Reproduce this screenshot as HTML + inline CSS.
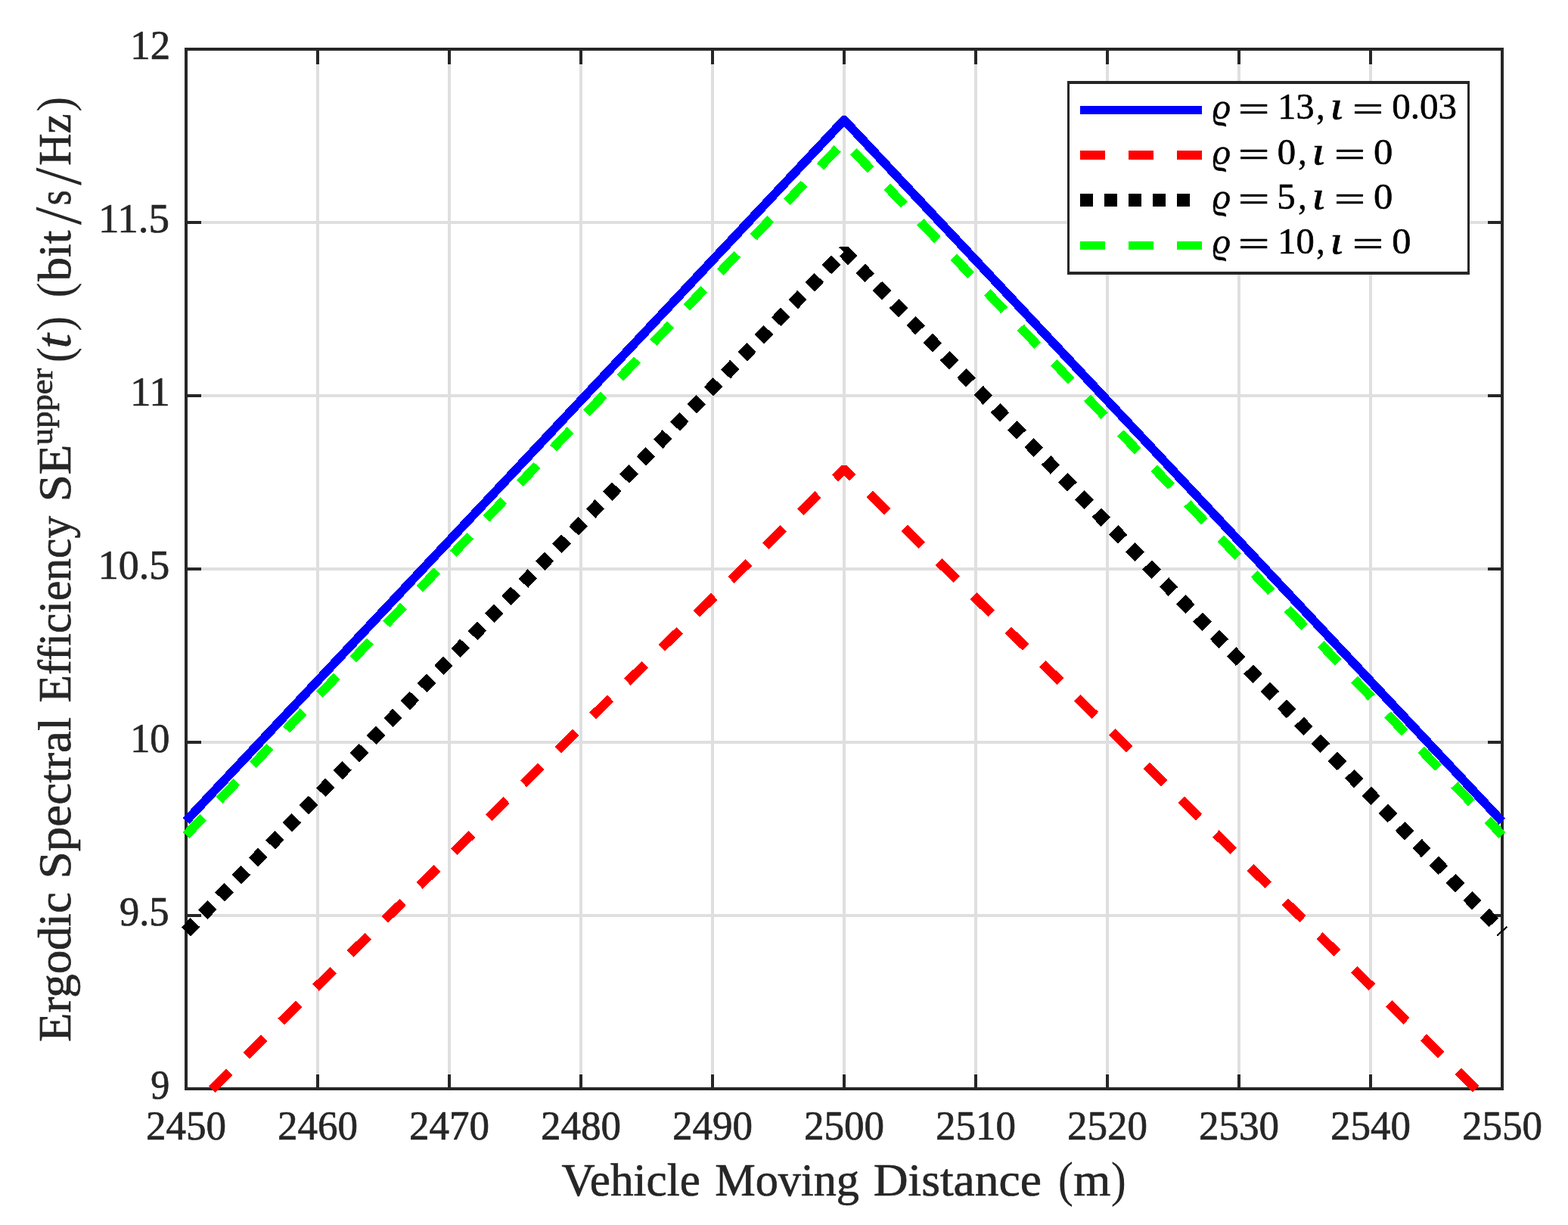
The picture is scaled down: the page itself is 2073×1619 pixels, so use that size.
<!DOCTYPE html>
<html lang="en">
<head>
<meta charset="utf-8">
<title>Ergodic Spectral Efficiency versus Vehicle Moving Distance</title>
<style>
html,body{margin:0;padding:0;background:#ffffff;}
body{width:2073px;height:1619px;overflow:hidden;}
svg{display:block;position:absolute;left:0;top:0;}
text{font-family:"Liberation Serif","DejaVu Serif",serif;white-space:pre;}
.tk,.lb,.sup{stroke:#262626;stroke-width:0.7;stroke-linejoin:round;}
.lg{stroke:#000000;stroke-width:0.6;stroke-linejoin:round;}
.tk{font-size:55px;fill:#262626;}
.lb{font-size:61px;fill:#262626;}
.sup{font-size:43px;fill:#262626;}
.lg{font-size:49px;fill:#000000;}
.it{font-style:italic;}
.ax{stroke:#262626;stroke-width:4;fill:none;}
.gr{stroke:#dfdfdf;stroke-width:4;fill:none;}
.ln{fill:none;stroke-linejoin:miter;stroke-linecap:butt;}
</style>
</head>
<body>
<svg width="2073" height="1619" viewBox="0 0 2073 1619">
<rect x="0" y="0" width="2073" height="1619" fill="#ffffff"/>
<g class="gr" shape-rendering="crispEdges">
<line x1="420" y1="65" x2="420" y2="1439"/>
<line x1="594" y1="65" x2="594" y2="1439"/>
<line x1="768" y1="65" x2="768" y2="1439"/>
<line x1="942" y1="65" x2="942" y2="1439"/>
<line x1="1116" y1="65" x2="1116" y2="1439"/>
<line x1="1290" y1="65" x2="1290" y2="1439"/>
<line x1="1464" y1="65" x2="1464" y2="1439"/>
<line x1="1638" y1="65" x2="1638" y2="1439"/>
<line x1="1812" y1="65" x2="1812" y2="1439"/>
<line x1="246" y1="294" x2="1986" y2="294"/>
<line x1="246" y1="523" x2="1986" y2="523"/>
<line x1="246" y1="752" x2="1986" y2="752"/>
<line x1="246" y1="981" x2="1986" y2="981"/>
<line x1="246" y1="1210" x2="1986" y2="1210"/>
</g>
<g class="ax" shape-rendering="crispEdges">
<rect x="246" y="65" width="1740" height="1374"/>
<line x1="420" y1="1439" x2="420" y2="1419.5"/>
<line x1="420" y1="65" x2="420" y2="84.5"/>
<line x1="594" y1="1439" x2="594" y2="1419.5"/>
<line x1="594" y1="65" x2="594" y2="84.5"/>
<line x1="768" y1="1439" x2="768" y2="1419.5"/>
<line x1="768" y1="65" x2="768" y2="84.5"/>
<line x1="942" y1="1439" x2="942" y2="1419.5"/>
<line x1="942" y1="65" x2="942" y2="84.5"/>
<line x1="1116" y1="1439" x2="1116" y2="1419.5"/>
<line x1="1116" y1="65" x2="1116" y2="84.5"/>
<line x1="1290" y1="1439" x2="1290" y2="1419.5"/>
<line x1="1290" y1="65" x2="1290" y2="84.5"/>
<line x1="1464" y1="1439" x2="1464" y2="1419.5"/>
<line x1="1464" y1="65" x2="1464" y2="84.5"/>
<line x1="1638" y1="1439" x2="1638" y2="1419.5"/>
<line x1="1638" y1="65" x2="1638" y2="84.5"/>
<line x1="1812" y1="1439" x2="1812" y2="1419.5"/>
<line x1="1812" y1="65" x2="1812" y2="84.5"/>
<line x1="246" y1="294" x2="265.5" y2="294"/>
<line x1="1986" y1="294" x2="1966.5" y2="294"/>
<line x1="246" y1="523" x2="265.5" y2="523"/>
<line x1="1986" y1="523" x2="1966.5" y2="523"/>
<line x1="246" y1="752" x2="265.5" y2="752"/>
<line x1="1986" y1="752" x2="1966.5" y2="752"/>
<line x1="246" y1="981" x2="265.5" y2="981"/>
<line x1="1986" y1="981" x2="1966.5" y2="981"/>
<line x1="246" y1="1210" x2="265.5" y2="1210"/>
<line x1="1986" y1="1210" x2="1966.5" y2="1210"/>
</g>
<g class="tk" text-anchor="middle">
<text x="246" y="1505.5" textLength="106" lengthAdjust="spacingAndGlyphs">2450</text>
<text x="420" y="1505.5" textLength="106" lengthAdjust="spacingAndGlyphs">2460</text>
<text x="594" y="1505.5" textLength="106" lengthAdjust="spacingAndGlyphs">2470</text>
<text x="768" y="1505.5" textLength="106" lengthAdjust="spacingAndGlyphs">2480</text>
<text x="942" y="1505.5" textLength="106" lengthAdjust="spacingAndGlyphs">2490</text>
<text x="1116" y="1505.5" textLength="106" lengthAdjust="spacingAndGlyphs">2500</text>
<text x="1290" y="1505.5" textLength="106" lengthAdjust="spacingAndGlyphs">2510</text>
<text x="1464" y="1505.5" textLength="106" lengthAdjust="spacingAndGlyphs">2520</text>
<text x="1638" y="1505.5" textLength="106" lengthAdjust="spacingAndGlyphs">2530</text>
<text x="1812" y="1505.5" textLength="106" lengthAdjust="spacingAndGlyphs">2540</text>
<text x="1986" y="1505.5" textLength="106" lengthAdjust="spacingAndGlyphs">2550</text>
</g>
<g class="tk">
<text x="172.27" y="77.7" textLength="52.76" lengthAdjust="spacingAndGlyphs">12</text>
<text x="129.9" y="306.7" textLength="94.22" lengthAdjust="spacingAndGlyphs">11.5</text>
<text x="171.9" y="535.7" textLength="52.97" lengthAdjust="spacingAndGlyphs">11</text>
<text x="129.73" y="764.7" textLength="94.43" lengthAdjust="spacingAndGlyphs">10.5</text>
<text x="172.23" y="993.7" textLength="52.29" lengthAdjust="spacingAndGlyphs">10</text>
<text x="157.95" y="1222.7" textLength="65.6" lengthAdjust="spacingAndGlyphs">9.5</text>
<text x="199.3" y="1451.7" textLength="25.02" lengthAdjust="spacingAndGlyphs">9</text>
</g>
<g class="lb">
<text><tspan x="742.5" y="1580.0" textLength="183.33" lengthAdjust="spacingAndGlyphs" style="font-size:61px">Vehicle</tspan> <tspan x="945.14" y="1580.0" textLength="190.75" lengthAdjust="spacingAndGlyphs" style="font-size:61px">Moving</tspan> <tspan x="1154.76" y="1580.0" textLength="222.1" lengthAdjust="spacingAndGlyphs" style="font-size:61px">Distance</tspan> <tspan x="1398.68" y="1581.0" textLength="20.3" lengthAdjust="spacingAndGlyphs" style="font-size:66.5px;stroke:none">(</tspan><tspan x="1419.3" y="1580.0" textLength="49.08" lengthAdjust="spacingAndGlyphs" style="font-size:61px">m</tspan><tspan x="1468.7" y="1581.0" textLength="20.16" lengthAdjust="spacingAndGlyphs" style="font-size:66.5px;stroke:none">)</tspan></text>
<text transform="translate(92.7,1376) rotate(-90)"><tspan x="-0.9" y="0" textLength="197.76" lengthAdjust="spacingAndGlyphs" style="font-size:61px">Ergodic</tspan> <tspan x="214.47" y="0" textLength="213.58" lengthAdjust="spacingAndGlyphs" style="font-size:61px">Spectral</tspan> <tspan x="447.58" y="0" textLength="246.63" lengthAdjust="spacingAndGlyphs" style="font-size:61px">Efficiency</tspan> <tspan x="712.68" y="0" textLength="75.91" lengthAdjust="spacingAndGlyphs" style="font-size:61px">SE</tspan><tspan x="787.8" y="-23.5" textLength="101.69" lengthAdjust="spacingAndGlyphs" style="font-size:41.5px">upper</tspan><tspan x="896.68" y="1.0" textLength="20.3" lengthAdjust="spacingAndGlyphs" style="font-size:66.5px;stroke:none">(</tspan><tspan x="915.4" y="0" textLength="19.44" lengthAdjust="spacingAndGlyphs" style="font-size:66px;font-style:italic">t</tspan><tspan x="938.34" y="1.0" textLength="19.9" lengthAdjust="spacingAndGlyphs" style="font-size:66.5px;stroke:none">)</tspan> <tspan x="982.48" y="1.0" textLength="20.3" lengthAdjust="spacingAndGlyphs" style="font-size:66.5px;stroke:none">(</tspan><tspan x="1004.3" y="0" textLength="67.21" lengthAdjust="spacingAndGlyphs" style="font-size:61px">bit</tspan><tspan x="1078.7" y="13.5" textLength="23.81" lengthAdjust="spacingAndGlyphs" style="font-size:88px;stroke:none">/</tspan><tspan x="1104.84" y="0" textLength="19.9" lengthAdjust="spacingAndGlyphs" style="font-size:61px">s</tspan><tspan x="1131.0" y="13.5" textLength="23.54" lengthAdjust="spacingAndGlyphs" style="font-size:88px;stroke:none">/</tspan><tspan x="1157.34" y="0" textLength="68.26" lengthAdjust="spacingAndGlyphs" style="font-size:61px">Hz</tspan><tspan x="1228.34" y="1.0" textLength="19.9" lengthAdjust="spacingAndGlyphs" style="font-size:66.5px;stroke:none">)</tspan></text>
</g>
<defs>
<clipPath id="cb"><rect x="0" y="152.8" width="2073" height="1619"/></clipPath>
<clipPath id="cr"><rect x="0" y="615.1" width="2073" height="1619"/></clipPath>
<clipPath id="ck"><rect x="0" y="326" width="2073" height="1619"/></clipPath>
</defs>
<g class="ln" shape-rendering="crispEdges">
<polyline clip-path="url(#cr)" points="280,1439.9 1116,619.9 1952,1439.9" stroke="#ff0000" stroke-width="12.2" stroke-dasharray="33 31.11" stroke-dashoffset="0"/>
<polyline clip-path="url(#ck)" points="246,1231.6 1116,332.5 1986.5,1231.5" stroke="#000000" stroke-width="17.5" stroke-dasharray="17.3 14.756" stroke-dashoffset="0"/>
<polyline points="246,1103.9 1116,187.0 1986,1103.9" stroke="#00ff00" stroke-width="12.2" stroke-dasharray="33 31.11" stroke-dashoffset="0"/>
<polyline clip-path="url(#cb)" points="246,1085.0 681,621.9 1116,158.6 1551,622.2 1986,1085.8" stroke="#0000ff" stroke-width="11.8"/>
</g>
<g shape-rendering="crispEdges">
<rect x="1412.5" y="109" width="529" height="252" fill="#ffffff" stroke="#262626" stroke-width="3.4"/>
<line x1="1428" y1="145.5" x2="1589" y2="145.5" stroke="#0000ff" stroke-width="11"/>
<line x1="1428" y1="205" x2="1589" y2="205" stroke="#ff0000" stroke-width="12" stroke-dasharray="33 31"/>
<line x1="1428" y1="264.5" x2="1573" y2="264.5" stroke="#000000" stroke-width="17" stroke-dasharray="17 15"/>
<line x1="1428" y1="324.5" x2="1589" y2="324.5" stroke="#00ff00" stroke-width="11" stroke-dasharray="33 31"/>
</g>
<g class="lg">
<text><tspan x="1602.9" y="157.1" textLength="24.01" lengthAdjust="spacingAndGlyphs" style="font-size:49px;font-style:italic">ϱ</tspan> <tspan x="1636.7" y="160.0" textLength="41.74" lengthAdjust="spacingAndGlyphs" style="font-size:49px">=</tspan> <tspan x="1689.36" y="157.1" textLength="48.1" lengthAdjust="spacingAndGlyphs" style="font-size:49px">13</tspan><tspan x="1740.35" y="157.1" textLength="11.33" lengthAdjust="spacingAndGlyphs" style="font-size:49px">,</tspan> <tspan x="1758.22" y="157.1" textLength="17.63" lengthAdjust="spacingAndGlyphs" style="font-size:52px;font-style:italic">ι</tspan> <tspan x="1787.83" y="160.0" textLength="41.46" lengthAdjust="spacingAndGlyphs" style="font-size:49px">=</tspan> <tspan x="1840.2" y="157.1" textLength="85.85" lengthAdjust="spacingAndGlyphs" style="font-size:49px">0.03</tspan></text>
<text><tspan x="1602.9" y="216.6" textLength="24.01" lengthAdjust="spacingAndGlyphs" style="font-size:49px;font-style:italic">ϱ</tspan> <tspan x="1636.7" y="219.5" textLength="41.74" lengthAdjust="spacingAndGlyphs" style="font-size:49px">=</tspan> <tspan x="1688.7" y="216.6" textLength="24.39" lengthAdjust="spacingAndGlyphs" style="font-size:49px">0</tspan><tspan x="1716.35" y="216.6" textLength="11.33" lengthAdjust="spacingAndGlyphs" style="font-size:49px">,</tspan> <tspan x="1734.22" y="216.6" textLength="17.63" lengthAdjust="spacingAndGlyphs" style="font-size:52px;font-style:italic">ι</tspan> <tspan x="1763.83" y="219.5" textLength="41.46" lengthAdjust="spacingAndGlyphs" style="font-size:49px">=</tspan> <tspan x="1815.9" y="216.6" textLength="25.34" lengthAdjust="spacingAndGlyphs" style="font-size:49px">0</tspan></text>
<text><tspan x="1602.9" y="276.1" textLength="24.01" lengthAdjust="spacingAndGlyphs" style="font-size:49px;font-style:italic">ϱ</tspan> <tspan x="1636.7" y="279.0" textLength="41.74" lengthAdjust="spacingAndGlyphs" style="font-size:49px">=</tspan> <tspan x="1688.3" y="276.1" textLength="24.4" lengthAdjust="spacingAndGlyphs" style="font-size:49px">5</tspan><tspan x="1716.35" y="276.1" textLength="11.33" lengthAdjust="spacingAndGlyphs" style="font-size:49px">,</tspan> <tspan x="1734.22" y="276.1" textLength="17.63" lengthAdjust="spacingAndGlyphs" style="font-size:52px;font-style:italic">ι</tspan> <tspan x="1763.83" y="279.0" textLength="41.46" lengthAdjust="spacingAndGlyphs" style="font-size:49px">=</tspan> <tspan x="1815.9" y="276.1" textLength="25.34" lengthAdjust="spacingAndGlyphs" style="font-size:49px">0</tspan></text>
<text><tspan x="1602.9" y="335.3" textLength="24.01" lengthAdjust="spacingAndGlyphs" style="font-size:49px;font-style:italic">ϱ</tspan> <tspan x="1636.7" y="338.2" textLength="41.74" lengthAdjust="spacingAndGlyphs" style="font-size:49px">=</tspan> <tspan x="1689.33" y="335.3" textLength="48.58" lengthAdjust="spacingAndGlyphs" style="font-size:49px">10</tspan><tspan x="1740.35" y="335.3" textLength="11.33" lengthAdjust="spacingAndGlyphs" style="font-size:49px">,</tspan> <tspan x="1758.22" y="335.3" textLength="17.63" lengthAdjust="spacingAndGlyphs" style="font-size:52px;font-style:italic">ι</tspan> <tspan x="1787.83" y="338.2" textLength="41.46" lengthAdjust="spacingAndGlyphs" style="font-size:49px">=</tspan> <tspan x="1840.2" y="335.3" textLength="25.24" lengthAdjust="spacingAndGlyphs" style="font-size:49px">0</tspan></text>
</g>
</svg>
</body>
</html>
